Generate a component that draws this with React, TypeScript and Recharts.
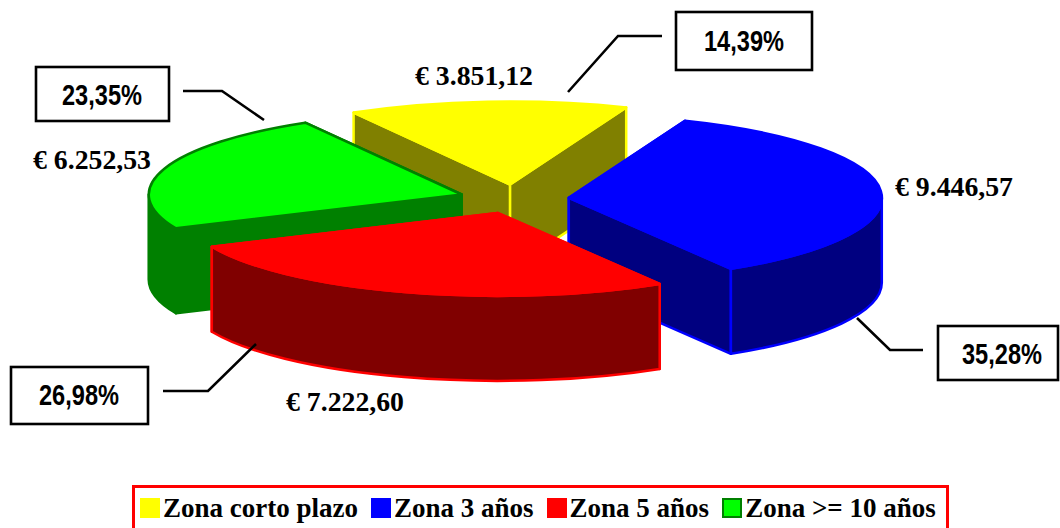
import { Legend, Pie, PieChart } from "recharts";

const zones = ["Zona corto plazo", "Zona 3 años", "Zona 5 años", "Zona >= 10 años"];
const amounts = [3851.12, 9446.57, 7222.6, 6252.53];
const amountLabels = ["€ 3.851,12", "€ 9.446,57", "€ 7.222,60", "€ 6.252,53"];
const shareLabels = ["14,39%", "35,28%", "26,98%", "23,35%"];

const topColors = ["#FFFF00", "#0000FF", "#FF0000", "#00FF00"];
const sideColors = ["#808000", "#000080", "#800000", "#008000"];
const edgeColors = ["#FFFF00", "#0000FF", "#FF0000", "#008000"];

const data = zones.map((name, index) => ({ name, value: amounts[index] }));

const RED_SLICE = 2;
const SQUASH = 0.265;
const DEPTH = 85;
const EXPLODE = 55;

// annotation placement, one entry per slice
const amountPos = [
  { x: 415, y: 85 },
  { x: 895, y: 196 },
  { x: 286, y: 411 },
  { x: 33, y: 169 },
];
const boxes = [
  { x: 676, y: 12, w: 136, h: 58, textX: 744, textY: 51 },
  { x: 938, y: 326, w: 120, h: 54, textX: 1002, textY: 364 },
  { x: 11, y: 367, w: 137, h: 57, textX: 79, textY: 405 },
  { x: 36, y: 67, w: 133, h: 54, textX: 102, textY: 105 },
];
const leaders = [
  "568,92 618,36 662,36",
  "857,318 890,350 923,350",
  "163,391 208,391 256,344",
  "183,91 222,91 264,120",
];

function SliceShape(props: any) {
  const { cx, cy, outerRadius, startAngle, endAngle, index, only } = props;
  const isRed = index === RED_SLICE;
  if (only === "red" ? !isRed : isRed) return null;

  const rx = outerRadius;
  const ry = outerRadius * SQUASH;
  const t0 = -startAngle;
  const t1 = -endAngle;
  const mid = (((t0 + t1) / 2) * Math.PI) / 180;
  const ax = cx + EXPLODE * Math.cos(mid);
  const ay = cy + EXPLODE * SQUASH * Math.sin(mid);
  const at = (deg: number, drop = 0) => {
    const r = (deg * Math.PI) / 180;
    return `${(ax + rx * Math.cos(r)).toFixed(1)} ${(ay + ry * Math.sin(r) + drop).toFixed(1)}`;
  };
  const apex = `${ax.toFixed(1)} ${ay.toFixed(1)}`;
  const apexLow = `${ax.toFixed(1)} ${(ay + DEPTH).toFixed(1)}`;
  const large = t1 - t0 > 180 ? 1 : 0;

  const wallFrom = Math.max(t0, 0);
  const wallTo = Math.min(t1, 180);
  const side = sideColors[index];
  const edge = edgeColors[index];

  return (
    <g stroke={edge} strokeWidth={2.5} strokeLinejoin="round">
      <path fill={side} d={`M${apex} L${at(t0)} L${at(t0, DEPTH)} L${apexLow} Z`} />
      <path fill={side} d={`M${apex} L${at(t1)} L${at(t1, DEPTH)} L${apexLow} Z`} />
      {wallTo > wallFrom && (
        <path
          fill={side}
          d={`M${at(wallFrom)} A${rx} ${ry} 0 0 1 ${at(wallTo)} L${at(wallTo, DEPTH)} A${rx} ${ry} 0 0 0 ${at(wallFrom, DEPTH)} Z`}
        />
      )}
      <path fill={topColors[index]} d={`M${apex} L${at(t0)} A${rx} ${ry} 0 ${large} 1 ${at(t1)} Z`} />
    </g>
  );
}

function SliceLabel({ index }: any) {
  const box = boxes[index];
  const pos = amountPos[index];
  return (
    <g>
      <text
        x={pos.x}
        y={pos.y}
        fontFamily="'Liberation Serif'"
        fontWeight="bold"
        fontSize={27}
        textLength={118}
        lengthAdjust="spacingAndGlyphs"
        fill="#000"
      >
        {amountLabels[index]}
      </text>
      <polyline points={leaders[index]} fill="none" stroke="#000" strokeWidth={2.6} />
      <rect x={box.x} y={box.y} width={box.w} height={box.h} fill="#fff" stroke="#000" strokeWidth={2.6} />
      <text
        x={box.textX}
        y={box.textY}
        textAnchor="middle"
        fontFamily="'Liberation Sans'"
        fontWeight="bold"
        fontSize={29}
        textLength={80}
        lengthAdjust="spacingAndGlyphs"
        fill="#000"
      >
        {shareLabels[index]}
      </text>
    </g>
  );
}

function ZoneLegend() {
  return (
    <div
      style={{
        boxSizing: "border-box",
        width: 817,
        height: 43,
        border: "3px solid #FF0000",
        borderBottom: "none",
        display: "flex",
        alignItems: "center",
        paddingLeft: 5,
        fontFamily: "'Liberation Serif'",
        fontWeight: "bold",
        fontSize: 27,
        color: "#000",
        whiteSpace: "nowrap",
      }}
    >
      {zones.map((zone, index) => (
        <span key={zone} style={{ display: "flex", alignItems: "center", marginRight: 13 }}>
          <span
            style={{
              boxSizing: "border-box",
              width: 20,
              height: 20,
              marginRight: 3,
              background: topColors[index],
              border: `2px solid ${edgeColors[index]}`,
            }}
          />
          {zone}
        </span>
      ))}
    </div>
  );
}

export default function App() {
  return (
    <div style={{ position: "absolute", left: 0, top: 0, width: 1060, height: 528, background: "#fff", overflow: "hidden" }}>
      <PieChart width={1060} height={528} margin={{ top: 0, right: 0, bottom: 0, left: 0 }}>
        <Pie
          data={data}
          dataKey="value"
          nameKey="name"
          cx={514}
          cy={199}
          outerRadius={313}
          startAngle={120}
          endAngle={-240}
          stroke="none"
          isAnimationActive={false}
          shape={(props: any) => <SliceShape {...props} only="rest" />}
        />
        <Pie
          data={data}
          dataKey="value"
          nameKey="name"
          cx={514}
          cy={199}
          outerRadius={313}
          startAngle={120}
          endAngle={-240}
          stroke="none"
          isAnimationActive={false}
          shape={(props: any) => <SliceShape {...props} only="red" />}
          label={(props: any) => <SliceLabel {...props} />}
          labelLine={false}
        />
        <Legend content={<ZoneLegend />} wrapperStyle={{ left: 132, top: 485, width: 817, height: 43 }} />
      </PieChart>
    </div>
  );
}
